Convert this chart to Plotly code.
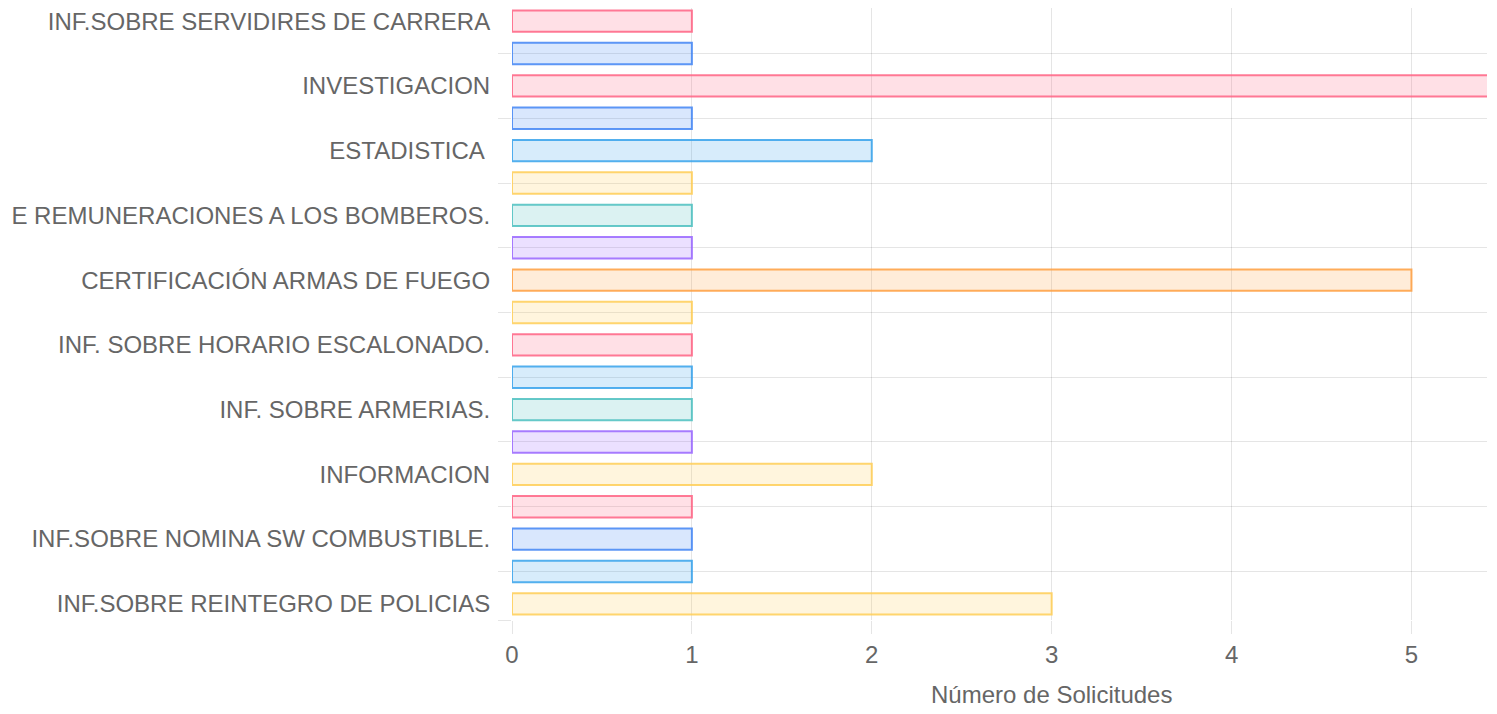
import plotly.graph_objects as go

# Categories (top to bottom); unlabeled categories are hidden by axis auto-skip in the original
categories = [
    "INF.SOBRE SERVIDIRES DE CARRERA", "",
    "INVESTIGACION", "",
    "ESTADISTICA ", "",
    "E REMUNERACIONES A LOS BOMBEROS.", "",
    "CERTIFICACIÓN ARMAS DE FUEGO", "",
    "INF. SOBRE HORARIO ESCALONADO.", "",
    "INF. SOBRE ARMERIAS.", "",
    "INFORMACION", "",
    "INF.SOBRE NOMINA SW COMBUSTIBLE.", "",
    "INF.SOBRE REINTEGRO DE POLICIAS",
]
solicitudes = [1, 1, 6, 1, 2, 1, 1, 1, 5, 1, 1, 1, 1, 1, 2, 1, 1, 1, 3]
colores = [
    (255, 99, 132), (66, 133, 244), (255, 99, 132), (66, 133, 244),
    (54, 162, 235), (255, 206, 86), (75, 192, 192), (153, 102, 255),
    (255, 159, 64), (255, 206, 86), (255, 99, 132), (54, 162, 235),
    (75, 192, 192), (153, 102, 255), (255, 206, 86), (255, 99, 132),
    (66, 133, 244), (54, 162, 235), (255, 206, 86),
]
x_title = "Número de Solicitudes"

idx = list(range(len(categories)))
fill = [f"rgba({r},{g},{b},0.2)" for r, g, b in colores]
border = [f"rgba({r},{g},{b},0.85)" for r, g, b in colores]

grid = "rgba(0,0,0,0.1)"
font = dict(family="Liberation Sans, Arial, sans-serif", size=24, color="#666")

fig = go.Figure(
    go.Bar(
        x=solicitudes,
        y=idx,
        orientation="h",
        width=0.66,
        marker=dict(color=fill, line=dict(color=border, width=2)),
        hoverinfo="x+y",
    )
)

label_vals = [i for i, c in enumerate(categories) if c]
gap_vals = [i for i, c in enumerate(categories) if not c] + [len(categories) - 0.5]

fig.update_layout(
    width=1489,
    height=706,
    margin=dict(l=504, r=10, t=0, b=94),
    paper_bgcolor="white",
    plot_bgcolor="white",
    font=font,
    showlegend=False,
    xaxis=dict(
        range=[0, 5.42],
        dtick=1,
        showgrid=True,
        gridcolor=grid,
        gridwidth=1,
        zeroline=False,
        ticks="outside",
        ticklen=13,
        tickcolor=grid,
        tickfont=font,
        showline=False,
    ),
    yaxis=dict(
        range=[len(categories) - 0.5, -0.407],
        tickmode="array",
        tickvals=label_vals,
        ticktext=[categories[i] for i in label_vals],
        ticklabeloverflow="allow",
        showgrid=False,
        zeroline=False,
        ticks="outside",
        ticklen=16,
        tickcolor="rgba(0,0,0,0)",
        tickfont=font,
        minor=dict(
            tickmode="array",
            tickvals=gap_vals,
            showgrid=True,
            gridcolor=grid,
            gridwidth=1,
            ticks="outside",
            ticklen=13,
            tickcolor=grid,
        ),
    ),
    annotations=[
        dict(
            text=x_title,
            xref="x",
            yref="paper",
            x=3,
            y=-0.1225,
            xanchor="center",
            yanchor="middle",
            showarrow=False,
            font=font,
        )
    ],
)

fig.write_html("out.html")
